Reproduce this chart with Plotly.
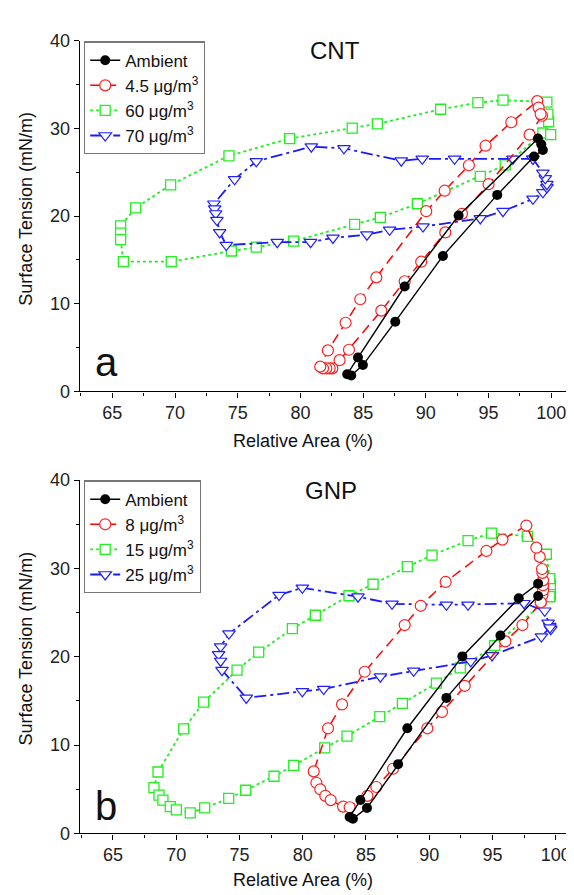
import plotly.graph_objects as go

# ---------------- Panel a : CNT ----------------
cnt_amb_x = [99.33, 98.62, 95.69, 91.36, 87.56, 84.98, 84.05, 83.73, 84.59, 88.31, 92.61, 98.94, 99.2]
cnt_amb_y = [27.55, 26.80, 22.42, 15.46, 7.96, 3.01, 1.82, 1.97, 3.87, 11.97, 20.07, 28.85, 28.2]

cnt_45_x = [99.26, 98.27, 95.00, 92.88, 91.55, 89.63, 88.31, 86.45, 83.87, 83.12, 82.54, 82.33, 82.06, 81.80,
            81.58, 82.19, 83.60, 84.77, 86.05, 90.03, 91.50, 93.43, 94.76, 96.81, 98.88, 98.99, 99.15]
cnt_45_y = [31.45, 29.29, 23.64, 20.26, 18.14, 14.80, 12.57, 9.22, 4.76, 3.57, 2.64, 2.64, 2.64, 2.64,
            2.83, 4.68, 7.84, 10.52, 13.01, 20.56, 22.90, 25.80, 28.03, 30.71, 33.12, 32.38, 31.64]

cnt_60_x = [99.65, 96.15, 94.15, 91.18, 86.13, 84.13, 79.14, 74.30, 69.65, 66.86, 65.66, 65.66, 65.66, 65.88,
            69.70, 74.49, 76.48, 79.46, 84.32, 86.37, 89.32, 94.34, 96.33, 99.33, 99.95, 99.79, 99.73]
cnt_60_y = [33.01, 33.23, 32.94, 32.19, 30.52, 30.04, 28.85, 26.88, 23.57, 20.93, 18.88, 18.07, 17.32, 14.80,
            14.80, 16.02, 16.47, 17.14, 19.07, 19.85, 21.41, 24.54, 25.84, 29.48, 29.29, 30.78, 31.64]

cnt_70_x = [98.54, 96.94, 92.29, 89.71, 88.04, 83.47, 80.87, 76.48, 74.75, 73.10, 73.16, 73.24, 73.34, 73.56,
            74.09, 78.15, 80.81, 82.59, 85.30, 87.11, 89.77, 94.34, 96.15, 98.54, 99.33, 99.65, 99.65, 99.52,
            99.33, 98.54]
cnt_70_y = [26.54, 26.54, 26.54, 26.54, 26.32, 27.73, 27.92, 26.25, 24.20, 21.41, 20.86, 20.30, 19.55, 18.14,
            16.69, 17.03, 17.03, 17.51, 17.88, 18.44, 18.81, 19.74, 20.56, 21.97, 22.71, 23.27, 23.64, 24.31,
            24.94, 26.54]

# ---------------- Panel b : GNP ----------------
gnp_amb_x = [98.61, 95.63, 91.36, 87.54, 85.08, 83.97, 83.71, 84.56, 88.27, 92.62, 97.08, 98.61]
gnp_amb_y = [26.88, 22.40, 15.34, 7.84, 2.88, 1.66, 1.85, 3.77, 11.90, 20.04, 26.62, 28.28]

gnp_8_x = [98.82, 98.95, 99.00, 99.00, 99.00, 98.95, 98.92, 98.74, 98.47, 97.68, 95.79, 94.52, 91.30, 89.33,
           88.06, 84.90, 83.11, 82.00, 80.87, 81.08, 81.39, 81.79, 82.21, 83.19, 83.71, 85.11, 85.82, 87.14,
           89.85, 91.01, 92.81, 96.02, 97.37, 98.82]
gnp_8_y = [26.17, 26.99, 27.54, 28.10, 28.65, 29.50, 29.94, 31.31, 32.35, 34.86, 33.27, 31.98, 28.47, 25.77,
           23.59, 18.30, 14.60, 11.90, 7.02, 5.73, 4.99, 4.25, 3.77, 3.03, 2.96, 4.25, 5.25, 7.32,
           11.90, 13.75, 16.71, 21.74, 23.59, 26.17]

gnp_15_x = [99.53, 99.58, 99.58, 99.53, 99.26, 97.76, 94.92, 93.07, 90.22, 88.27, 85.56, 83.66, 81.00, 79.18,
            76.52, 74.81, 72.17, 70.59, 68.56, 68.24, 68.64, 68.95, 69.53, 70.01, 71.11, 72.25, 74.15, 75.49,
            77.73, 79.29, 81.74, 83.50, 86.09, 87.88, 90.57, 92.46, 95.18, 99.53]
gnp_15_y = [26.80, 27.06, 28.17, 28.84, 31.61, 33.64, 34.01, 33.16, 31.50, 30.20, 28.21, 26.91, 24.70, 23.18,
            20.52, 18.48, 14.86, 11.83, 6.95, 5.18, 4.33, 3.77, 3.03, 2.66, 2.33, 2.88, 3.96, 4.88,
            6.47, 7.69, 9.69, 11.02, 13.23, 14.71, 17.01, 18.74, 21.26, 26.80]

gnp_25_x = [99.61, 99.53, 99.40, 99.13, 97.50, 93.07, 91.36, 87.06, 84.37, 79.97, 78.13, 74.17, 73.51, 73.35,
            73.51, 73.62, 75.54, 79.97, 81.66, 86.14, 88.77, 93.28, 94.97, 98.87, 99.55]
gnp_25_y = [23.10, 23.47, 23.84, 25.21, 26.06, 25.88, 25.88, 25.99, 26.80, 27.80, 26.99, 22.62, 21.15, 20.26,
            19.52, 18.48, 15.34, 16.08, 16.34, 17.74, 18.41, 19.48, 20.15, 22.29, 23.30]

names_a = ["Ambient", "4.5 μg/m<sup>3</sup>", "60 μg/m<sup>3</sup>", "70 μg/m<sup>3</sup>"]
names_b = ["Ambient", "8 μg/m<sup>3</sup>", "15 μg/m<sup>3</sup>", "25 μg/m<sup>3</sup>"]
x_ticks = [65, 70, 75, 80, 85, 90, 95, 100]
y_ticks = [0, 10, 20, 30, 40]

FONT = "Liberation Sans, Arial, sans-serif"
W, H = 574, 895

styles = [
    dict(line=dict(color="#000000", width=1.4, dash="solid"),
         marker=dict(symbol="circle", size=10, color="#000000", line=dict(width=0))),
    dict(line=dict(color="#ff0000", width=1.5, dash="10px,6px"),
         marker=dict(symbol="circle", size=11, color="white", line=dict(width=1.2, color="#ff2020"))),
    dict(line=dict(color="#22ee22", width=1.8, dash="3px,3px"),
         marker=dict(symbol="square", size=10, color="white", line=dict(width=1.3, color="#22ee22"))),
    dict(line=dict(color="#1a1aff", width=1.8, dash="12px,4px,3px,4px"),
         marker=dict(symbol="triangle-down", size=11, color="white", line=dict(width=1.2, color="#2020ff"))),
]

fig = go.Figure()
panel_a = [(cnt_amb_x, cnt_amb_y), (cnt_45_x, cnt_45_y), (cnt_60_x, cnt_60_y), (cnt_70_x, cnt_70_y)]
panel_b = [(gnp_amb_x, gnp_amb_y), (gnp_8_x, gnp_8_y), (gnp_15_x, gnp_15_y), (gnp_25_x, gnp_25_y)]

# draw order: green, blue, red, black on top
order = [2, 3, 1, 0]
for i in order:
    xs, ys = panel_a[i]
    fig.add_trace(go.Scatter(x=xs, y=ys, mode="lines+markers", name=names_a[i],
                             xaxis="x", yaxis="y", legend="legend", legendrank=i,
                             **styles[i]))
for i in order:
    xs, ys = panel_b[i]
    fig.add_trace(go.Scatter(x=xs, y=ys, mode="lines+markers", name=names_b[i],
                             xaxis="x2", yaxis="y2", legend="legend2", legendrank=i,
                             **styles[i]))

x_dom = [71.7 / W, 573 / W]
top_dom = [(H - 382) / H, (H - 23.3) / H]
bot_dom = [(H - 834) / H, (H - 472.7) / H]

def xax(rng, anchor):
    return dict(domain=x_dom, range=rng, anchor=anchor, tickvals=x_ticks, ticks="outside",
                ticklen=5, tickwidth=1.2, showline=True, linecolor="#000", linewidth=1.3,
                showgrid=False, zeroline=False, tickfont=dict(size=18, color="#222", family=FONT),
                minor=dict(dtick=2.5, tick0=62.5, ticks="outside", ticklen=3, tickwidth=1, tickcolor="#000"),
                tickcolor="#000")

def yax(dom, anchor):
    return dict(domain=dom, range=[0, 40], anchor=anchor, tickvals=y_ticks, ticks="outside",
                ticklen=5, tickwidth=1.2, showline=True, linecolor="#000", linewidth=1.3,
                showgrid=False, zeroline=False, tickfont=dict(size=18, color="#222", family=FONT),
                minor=dict(dtick=5, ticks="outside", ticklen=3, tickwidth=1, tickcolor="#000"),
                tickcolor="#000")

legend_common = dict(bgcolor="rgba(255,255,255,1)", bordercolor="#777", borderwidth=1.2,
                     font=dict(size=17, family=FONT, color="#111"), xanchor="left", yanchor="top",
                     traceorder="normal", tracegroupgap=0, itemwidth=30)

fig.update_layout(
    width=W, height=H, margin=dict(l=0, r=0, t=0, b=0),
    paper_bgcolor="white", plot_bgcolor="white",
    font=dict(family=FONT, color="#111"),
    xaxis=xax([62.4, 102.37], "y"),
    yaxis=yax(top_dom, "x"),
    xaxis2=xax([62.37, 102.0], "y2"),
    yaxis2=yax(bot_dom, "x2"),
    legend=dict(x=76 / W, y=1 - 24 / H, **legend_common),
    legend2=dict(x=76 / W, y=1 - 473 / H, **legend_common),
)

def ann(text, x, y, size, angle=0):
    fig.add_annotation(text=text, x=x / W, y=1 - y / H, xref="paper", yref="paper",
                       showarrow=False, textangle=angle, xanchor="center", yanchor="middle",
                       font=dict(size=size, family=FONT, color="#111"))

ann("CNT", 327, 33, 24)
ann("GNP", 323, 483, 24)
ann("a", 98, 352, 40)
ann("b", 98, 806, 40)
ann("Relative Area (%)", 295, 433, 18)
ann("Relative Area (%)", 295, 882, 18)
ann("Surface Tension (mN/m)", 18, 195, 18, -90)
ann("Surface Tension (mN/m)", 18, 645, 18, -90)

fig.write_html("out.html")
